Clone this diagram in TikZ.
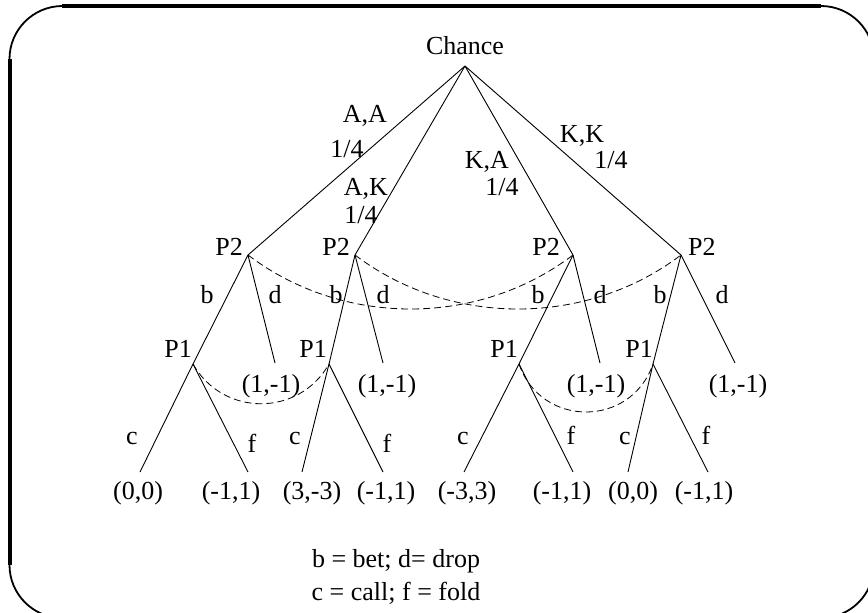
\documentclass[tikz,border=0pt]{standalone}
\usepackage{fontspec}
\setmainfont{Liberation Serif}
\begin{document}
\begin{tikzpicture}[x=1pt,y=-1pt,
  every node/.style={font=\fontsize{26}{31}\selectfont, inner sep=0pt},
  treeline/.style={line width=0.9pt},
  infoset/.style={line width=0.8pt, dash pattern=on 7pt off 4pt},
  lbl/.style={anchor=base}]
\useasboundingbox (0,0) rectangle (868,613);
% frame
\draw[line width=1.8pt, rounded corners=53pt] (9.5,6) rectangle (874,618);
\draw[line width=4pt] (62,6) -- (821,6);
\draw[line width=4pt] (10,59) -- (10,565);
% points
\coordinate (root) at (465,66);
\coordinate (p2a) at (248,255);
\coordinate (p2b) at (355,255);
\coordinate (p2c) at (573,255);
\coordinate (p2d) at (681,255);
\coordinate (p1a) at (193,364);
\coordinate (p1b) at (329,364);
\coordinate (p1c) at (519,364);
\coordinate (p1d) at (653,364);
\coordinate (da) at (275,363);
\coordinate (db) at (383,363);
\coordinate (dc) at (600,363);
\coordinate (dd) at (735,363);
\coordinate (ca) at (140,472);
\coordinate (fa) at (248,472);
\coordinate (cb) at (302,472);
\coordinate (fb) at (383,472);
\coordinate (cc) at (464,472);
\coordinate (fc) at (573,472);
\coordinate (cd) at (628,472);
\coordinate (fd) at (708,472);
% tree lines
\draw[treeline] (root) -- (p2a);
\draw[treeline] (root) -- (p2b);
\draw[treeline] (root) -- (p2c);
\draw[treeline] (root) -- (p2d);
\draw[treeline] (p2a) -- (p1a);
\draw[treeline] (p2a) -- (da);
\draw[treeline] (p2b) -- (p1b);
\draw[treeline] (p2b) -- (db);
\draw[treeline] (p2c) -- (p1c);
\draw[treeline] (p2c) -- (dc);
\draw[treeline] (p2d) -- (p1d);
\draw[treeline] (p2d) -- (dd);
\draw[treeline] (p1a) -- (ca);
\draw[treeline] (p1a) -- (fa);
\draw[treeline] (p1b) -- (cb);
\draw[treeline] (p1b) -- (fb);
\draw[treeline] (p1c) -- (cc);
\draw[treeline] (p1c) -- (fc);
\draw[treeline] (p1d) -- (cd);
\draw[treeline] (p1d) -- (fd);
% information sets
\draw[infoset] (p2a) .. controls +(95,72) and +(-95,72) .. (p2c);
\draw[infoset] (p2b) .. controls +(95,72) and +(-95,72) .. (p2d);
\draw[infoset] (p1a) .. controls +(30,53) and +(-30,53) .. (p1b);
\draw[infoset] (p1c) .. controls +(22,64) and +(-22,64) .. (p1d);
% labels
\node[lbl] (chance) at (465,54) {Chance};
\node[lbl] (laa) at (365,122) {A,A};
\node[lbl] (paa) at (347,157) {1/4};
\node[lbl] (lak) at (366,195) {A,K};
\node[lbl] (pak) at (361,223) {1/4};
\node[lbl] (lka) at (487,168) {K,A};
\node[lbl] (pka) at (502,195) {1/4};
\node[lbl] (lkk) at (582,142) {K,K};
\node[lbl] (pkk) at (611,168) {1/4};
\node[anchor=base east] (n2a) at (243,255) {P2};
\node[anchor=base east] (n2b) at (350,255) {P2};
\node[anchor=base east] (n2c) at (560,255) {P2};
\node[anchor=base west] (n2d) at (688,255) {P2};
\node[anchor=base east] (n1a) at (192,357) {P1};
\node[anchor=base east] (n1b) at (327,357) {P1};
\node[anchor=base east] (n1c) at (518,357) {P1};
\node[anchor=base east] (n1d) at (653,357) {P1};
\node[lbl] (ba) at (207,303) {b};
\node[lbl] (dla) at (275,303) {d};
\node[lbl] (bb) at (336,303) {b};
\node[lbl] (dlb) at (383,303) {d};
\node[lbl] (bc) at (538,303) {b};
\node[lbl] (dlc) at (600,303) {d};
\node[lbl] (bd) at (660,303) {b};
\node[lbl] (dld) at (722,303) {d};
\node[lbl] (ua) at (271,392) {(1,-1)};
\node[lbl] (ub) at (387,392) {(1,-1)};
\node[lbl] (uc) at (596,392) {(1,-1)};
\node[lbl] (ud) at (738,392) {(1,-1)};
\node[lbl] (cla) at (132,444) {c};
\node[lbl] (fla) at (252,452) {f};
\node[lbl] (clb) at (295,444) {c};
\node[lbl] (flb) at (387,452) {f};
\node[lbl] (clc) at (463,444) {c};
\node[lbl] (flc) at (571,444) {f};
\node[lbl] (cld) at (625,444) {c};
\node[lbl] (fld) at (706,444) {f};
\node[lbl] (v1) at (138,499) {(0,0)};
\node[lbl] (v2) at (231,499) {(-1,1)};
\node[lbl] (v3) at (312,499) {(3,-3)};
\node[lbl] (v4) at (386,499) {(-1,1)};
\node[lbl] (v5) at (467,499) {(-3,3)};
\node[lbl] (v6) at (562,499) {(-1,1)};
\node[lbl] (v7) at (633,499) {(0,0)};
\node[lbl] (v8) at (704,499) {(-1,1)};
\node[lbl] (leg1) at (396,567) {b = bet; d= drop};
\node[lbl] (leg2) at (396,600) {c = call; f = fold};
\end{tikzpicture}
\end{document}
